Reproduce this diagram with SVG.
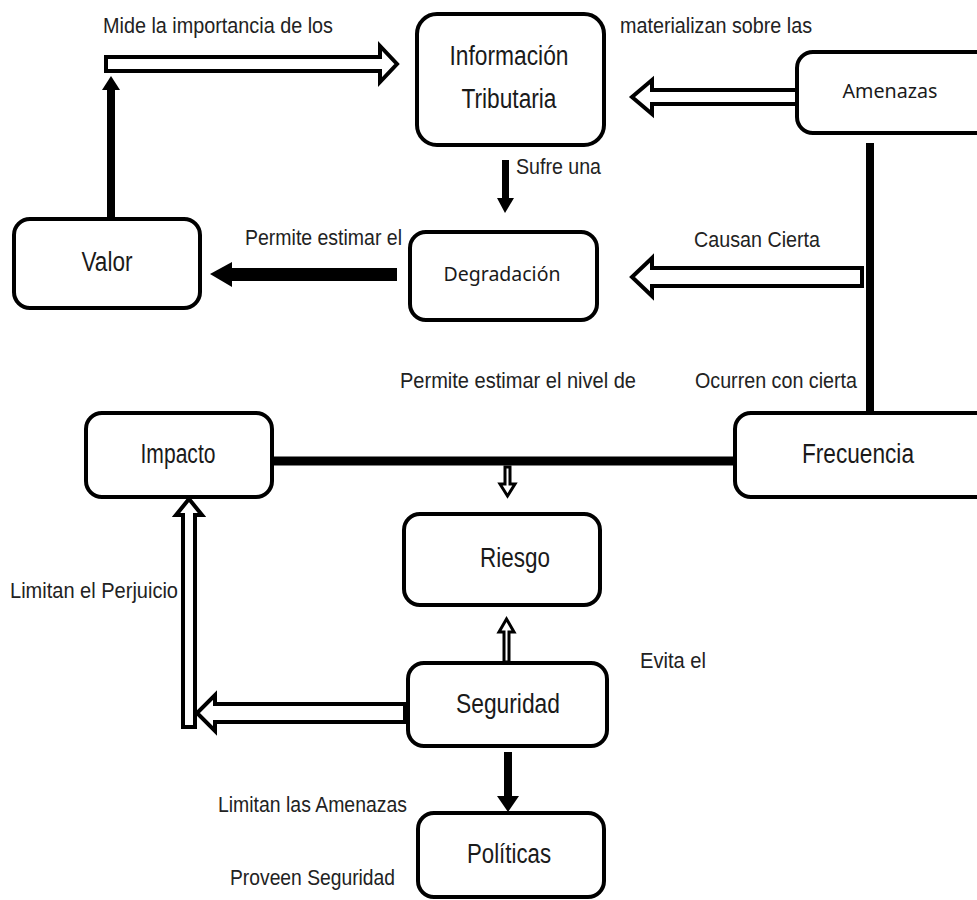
<svg xmlns="http://www.w3.org/2000/svg" width="977" height="900" viewBox="0 0 977 900">
<style>
.box{fill:#fff;stroke:#000;stroke-width:4}
.nt{font-family:"Liberation Sans",Arial,sans-serif;font-size:27px;fill:#1a1a1a;text-anchor:middle}
.ns{font-family:"Noto Sans","Open Sans",sans-serif;font-size:20px;fill:#1a1a1a;text-anchor:middle}
.lb{font-family:"Liberation Sans",Arial,sans-serif;font-size:22px;fill:#222}
.hollow{fill:#fff;stroke:#000;stroke-width:4;stroke-linejoin:miter}
.thin{fill:#fff;stroke:#000;stroke-width:3}
.solid{fill:#000}
.bar{stroke:#000;fill:none}
</style>
<rect width="977" height="900" fill="#fff"/>
<g id="connectors">
  <rect class="solid" x="107" y="88" width="8" height="131"/>
  <polygon class="solid" points="111,76 120,90 102,90"/>
  <polygon class="hollow" points="106,57 380,57 380,46 397,64 380,82 380,71 106,71"/>
  <polygon class="hollow" points="797,90 652,90 652,80 632,97 652,114 652,104 797,104"/>
  <rect class="solid" x="502" y="160" width="7" height="40"/>
  <polygon class="solid" points="497,198 514,198 505,213"/>
  <rect class="solid" x="230" y="268" width="167" height="13"/>
  <polygon class="solid" points="210,274 232,262 232,287"/>
  <line class="bar" x1="870" y1="143" x2="870" y2="413" stroke-width="8"/>
  <polygon class="hollow" points="862,268 652,268 652,258 632,277 652,296 652,286 862,286"/>
  <line class="bar" x1="272" y1="461" x2="735" y2="461" stroke-width="9"/>
  <polygon class="thin" points="505,467 510,467 510,484 515,484 507.5,496 500,484 505,484"/>
  <polygon class="thin" points="504,662 509,662 509,632 514,632 506.5,619 499,632 504,632"/>
  <polygon class="hollow" points="405,704 215,704 215,695 197,713 215,731 215,722 405,722"/>
  <polygon class="hollow" points="183,727 195,727 195,515 202,515 189,499 176,515 183,515"/>
  <rect class="solid" x="504" y="752" width="8" height="46"/>
  <polygon class="solid" points="497,796 519,796 508,812"/>
</g>
<g id="labels">
  <text class="lb" x="103" y="33" textLength="230" lengthAdjust="spacingAndGlyphs">Mide la importancia  de los</text>
  <text class="lb" x="620" y="33" textLength="192" lengthAdjust="spacingAndGlyphs">materializan  sobre las</text>
  <text class="lb" x="516" y="174" textLength="85" lengthAdjust="spacingAndGlyphs">Sufre una</text>
  <text class="lb" x="245" y="245" textLength="157" lengthAdjust="spacingAndGlyphs">Permite estimar el</text>
  <text class="lb" x="694" y="247" textLength="126" lengthAdjust="spacingAndGlyphs">Causan  Cierta</text>
  <text class="lb" x="400" y="388" textLength="236" lengthAdjust="spacingAndGlyphs">Permite estimar el nivel de</text>
  <text class="lb" x="695" y="388" textLength="162" lengthAdjust="spacingAndGlyphs">Ocurren con cierta</text>
  <text class="lb" x="10" y="598" textLength="168" lengthAdjust="spacingAndGlyphs">Limitan el Perjuicio</text>
  <text class="lb" x="640" y="668" textLength="66" lengthAdjust="spacingAndGlyphs">Evita el</text>
  <text class="lb" x="218" y="812" textLength="189" lengthAdjust="spacingAndGlyphs">Limitan las Amenazas</text>
  <text class="lb" x="230" y="885" textLength="165" lengthAdjust="spacingAndGlyphs">Proveen Seguridad</text>
</g>
<g id="informacion">
  <rect class="box" x="417" y="14" width="187" height="131" rx="20"/>
  <text class="nt" x="509" y="65" textLength="119" lengthAdjust="spacingAndGlyphs">Información</text>
  <text class="nt" x="509" y="108" textLength="95" lengthAdjust="spacingAndGlyphs">Tributaria</text>
</g>
<g id="amenazas">
  <rect class="box" x="797" y="52" width="195" height="81" rx="16"/>
  <text class="ns" x="890" y="98" textLength="95" lengthAdjust="spacingAndGlyphs">Amenazas</text>
</g>
<g id="valor">
  <rect class="box" x="14" y="219" width="186" height="89" rx="16"/>
  <text class="nt" x="107" y="271" textLength="51" lengthAdjust="spacingAndGlyphs">Valor</text>
</g>
<g id="degradacion">
  <rect class="box" x="410" y="232" width="187" height="88" rx="16"/>
  <text class="ns" x="502" y="281" textLength="117" lengthAdjust="spacingAndGlyphs">Degradación</text>
</g>
<g id="impacto">
  <rect class="box" x="86" y="413" width="186" height="84" rx="16"/>
  <text class="nt" x="178" y="463" textLength="75" lengthAdjust="spacingAndGlyphs">Impacto</text>
</g>
<g id="frecuencia">
  <rect class="box" x="735" y="413" width="257" height="84" rx="16"/>
  <text class="nt" x="858" y="463" textLength="112" lengthAdjust="spacingAndGlyphs">Frecuencia</text>
</g>
<g id="riesgo">
  <rect class="box" x="404" y="514" width="196" height="91" rx="16"/>
  <text class="nt" x="515" y="567" textLength="70" lengthAdjust="spacingAndGlyphs">Riesgo</text>
</g>
<g id="seguridad">
  <rect class="box" x="408" y="663" width="199" height="83" rx="16"/>
  <text class="nt" x="508" y="713" textLength="104" lengthAdjust="spacingAndGlyphs">Seguridad</text>
</g>
<g id="politicas">
  <rect class="box" x="418" y="813" width="186" height="84" rx="16"/>
  <text class="nt" x="509" y="863" textLength="84" lengthAdjust="spacingAndGlyphs">Políticas</text>
</g>
</svg>
